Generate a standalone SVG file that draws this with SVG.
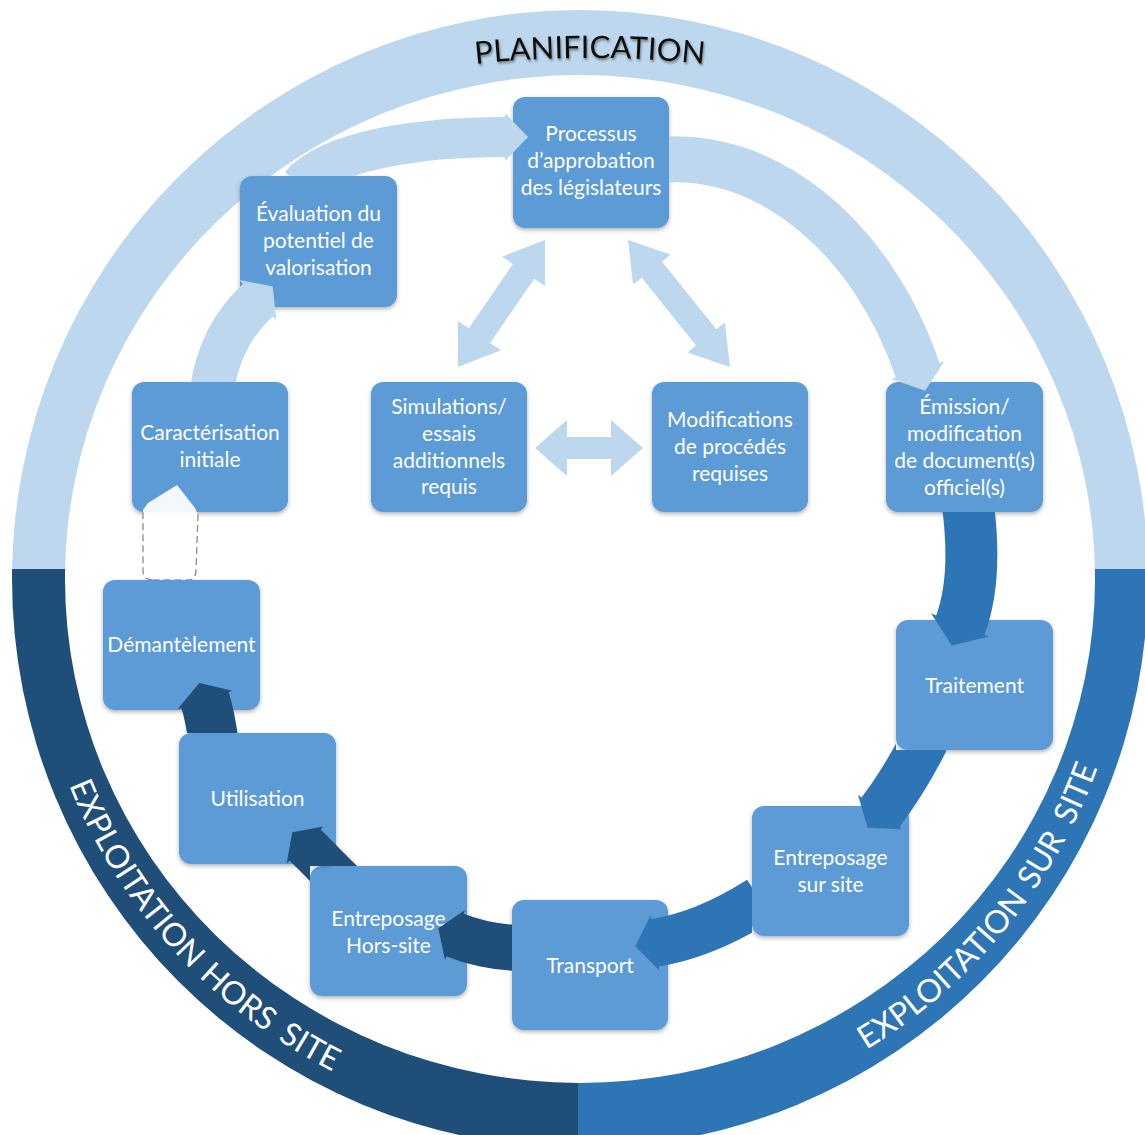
<svg xmlns="http://www.w3.org/2000/svg" width="1145" height="1135" viewBox="0 0 1145 1135">
<defs>
<style>
.box{fill:#5B9BD5;filter:url(#sh)}
.t{font-family:Lato,"Open Sans","Liberation Sans",sans-serif;font-size:21px;fill:#fff;text-anchor:middle}
.rt{font-family:Lato,"Open Sans","Liberation Sans",sans-serif;font-size:32px;fill:#fff}
.light{fill:#BDD7EE}
.lightS{stroke:#BDD7EE;fill:none}
.medF{fill:#2E75B6}
.medS{stroke:#2E75B6;fill:none}
.navF{fill:#1F4E79}
.navS{stroke:#1F4E79;fill:none}
</style>
<filter id="sh" x="-10%" y="-10%" width="120%" height="125%"><feDropShadow dx="0" dy="2" stdDeviation="2" flood-color="#000" flood-opacity="0.3"/></filter>
<filter id="tsh" x="-10%" y="-30%" width="120%" height="160%"><feDropShadow dx="1" dy="2" stdDeviation="1" flood-color="#444" flood-opacity="0.6"/></filter>
<clipPath id="cTop"><rect x="0" y="0" width="1145" height="569"/></clipPath>
<clipPath id="cBL"><rect x="0" y="569" width="578" height="566"/></clipPath>
<clipPath id="cBR"><rect x="578" y="569" width="567" height="566"/></clipPath>
<path id="ring" fill-rule="evenodd" d="M12 579A568 569 0 1 1 1148 579A568 569 0 1 1 12 579Z M65 579A515 504 0 1 0 1095 579A515 504 0 1 0 65 579Z"/>
<path id="pTop" d="M400 74.5A1100 1100 0 0 1 780 74.5"/>
<path id="pBL" d="M37.4 674.7A551 551 0 0 0 532 1127.9"/>
<path id="pBR" d="M628 1127.9A551 551 0 0 0 1128.9 531"/>
<clipPath id="x1"><path clip-rule="evenodd" d="M0 0H1145V1135H0Z M513 97h156v131h-156Z"/></clipPath>
<clipPath id="x2"><path clip-rule="evenodd" d="M0 0H1145V1135H0Z M240 176h157v131h-157Z"/></clipPath>
<clipPath id="x3"><path clip-rule="evenodd" d="M0 0H1145V1135H0Z M132 382h156v130h-156Z"/></clipPath>
<clipPath id="x6"><path clip-rule="evenodd" d="M0 0H1145V1135H0Z M886 382h157v130h-157Z"/></clipPath>
<clipPath id="x7"><path clip-rule="evenodd" d="M0 0H1145V1135H0Z M896 620h157v130h-157Z"/></clipPath>
<clipPath id="x8"><path clip-rule="evenodd" d="M0 0H1145V1135H0Z M752 806h157v130h-157Z"/></clipPath>
<clipPath id="x9"><path clip-rule="evenodd" d="M0 0H1145V1135H0Z M512 900h156v130h-156Z"/></clipPath>
<clipPath id="x10"><path clip-rule="evenodd" d="M0 0H1145V1135H0Z M310 866h157v130h-157Z"/></clipPath>
<clipPath id="x11"><path clip-rule="evenodd" d="M0 0H1145V1135H0Z M179 733h157v131h-157Z"/></clipPath>
<clipPath id="x12"><path clip-rule="evenodd" d="M0 0H1145V1135H0Z M103 580h157v130h-157Z"/></clipPath>
</defs>
<rect width="1145" height="1135" fill="#fff"/>

<g id="phase-ring">
<use href="#ring" fill="#BDD7EE" clip-path="url(#cTop)"/>
<use href="#ring" fill="#1F4E79" clip-path="url(#cBL)"/>
<use href="#ring" fill="#2E75B6" clip-path="url(#cBR)"/>
<text font-family="Lato,'Open Sans','Liberation Sans',sans-serif" font-size="31" fill="#111" filter="url(#tsh)"><textPath href="#pTop" startOffset="50%" text-anchor="middle">PLANIFICATION</textPath></text>
<text class="rt"><textPath href="#pBL" startOffset="115">EXPLOITATION</textPath></text>
<text class="rt"><textPath href="#pBL" startOffset="348">HORS</textPath></text>
<text class="rt"><textPath href="#pBL" startOffset="449">SITE</textPath></text>
<text class="rt"><textPath href="#pBR" startOffset="253">EXPLOITATION</textPath></text>
<text class="rt"><textPath href="#pBR" startOffset="486">SUR</textPath></text>
<text class="rt"><textPath href="#pBR" startOffset="561">SITE</textPath></text>
</g>

<g id="n1"><rect class="box" x="513" y="97" width="156" height="131" rx="12"/>
<text class="t" x="591" y="141">Processus</text><text class="t" x="591" y="168">d’approbation</text><text class="t" x="591" y="195">des législateurs</text></g>
<g id="n2"><rect class="box" x="240" y="176" width="157" height="131" rx="12"/>
<text class="t" x="318.5" y="221">Évaluation du</text><text class="t" x="318.5" y="248">potentiel de</text><text class="t" x="318.5" y="275">valorisation</text></g>
<g id="n3"><rect class="box" x="132" y="382" width="156" height="130" rx="12"/>
<text class="t" x="210" y="440">Caractérisation</text><text class="t" x="210" y="467">initiale</text></g>
<g id="n4"><rect class="box" x="371" y="382" width="156" height="130" rx="12"/>
<text class="t" x="449" y="414">Simulations/</text><text class="t" x="449" y="441">essais</text><text class="t" x="449" y="468">additionnels</text><text class="t" x="449" y="494">requis</text></g>
<g id="n5"><rect class="box" x="652" y="382" width="156" height="130" rx="12"/>
<text class="t" x="730" y="427">Modifications</text><text class="t" x="730" y="454">de procédés</text><text class="t" x="730" y="481">requises</text></g>
<g id="n6"><rect class="box" x="886" y="382" width="157" height="130" rx="12"/>
<text class="t" x="964.5" y="414">Émission/</text><text class="t" x="964.5" y="441">modification</text><text class="t" x="964.5" y="468">de document(s)</text><text class="t" x="964.5" y="495">officiel(s)</text></g>
<g id="n7"><rect class="box" x="896" y="620" width="157" height="130" rx="12"/>
<text class="t" x="974.5" y="693">Traitement</text></g>
<g id="n8"><rect class="box" x="752" y="806" width="157" height="130" rx="12"/>
<text class="t" x="830.5" y="865">Entreposage</text><text class="t" x="830.5" y="892">sur site</text></g>
<g id="n9"><rect class="box" x="512" y="900" width="156" height="130" rx="12"/>
<text class="t" x="590" y="973">Transport</text></g>
<g id="n10"><rect class="box" x="310" y="866" width="157" height="130" rx="12"/>
<text class="t" x="388.5" y="926">Entreposage</text><text class="t" x="388.5" y="953">Hors-site</text></g>
<g id="n11"><rect class="box" x="179" y="733" width="157" height="131" rx="12"/>
<text class="t" x="257.5" y="806">Utilisation</text></g>
<g id="n12"><rect class="box" x="103" y="580" width="157" height="130" rx="12"/>
<text class="t" x="181.5" y="652">Démantèlement</text></g>

<g id="connectors">
<g clip-path="url(#x3)"><path class="lightS" stroke-width="44" d="M212 390Q220 335 258 300"/><polygon class="light" points="276.3,319.9 272.7,286.4 239.7,280.1 257,301"/></g>
<g clip-path="url(#x2)"><path class="lightS" stroke-width="40" d="M300 185C330 150 420 137 506 137"/><polygon class="light" points="505,113 528,137 505,161"/></g>
<g clip-path="url(#x1)"><path class="lightS" stroke-width="46" d="M660 160C760 150 870 230 918 371"/><polygon class="light" points="944.5,360.9 925.1,390.8 891.5,379.1"/></g>
<g clip-path="url(#x6)"><path class="medS" stroke-width="52" d="M968 505C975 560 970 600 960 626"/><polygon class="medF" points="988.8,636.5 951.8,645.4 931.2,613.5"/></g>
<g clip-path="url(#x7)"><path class="medS" stroke-width="48" d="M925 740Q905 780 880 813"/><polygon class="medF" points="902.1,829.2 867.7,827.8 857.9,794.8"/></g>
<g clip-path="url(#x8)"><path class="medS" stroke-width="48" d="M760 900Q705 935 654 943"/><polygon class="medF" points="659.4,970.6 635.3,946.2 650.6,915.4"/></g>
<g clip-path="url(#x9)"><path class="navS" stroke-width="46" d="M520 948Q485 947 454 934.6"/><polygon class="navF" points="465,910 438.3,928.3 445,960"/></g>
<g clip-path="url(#x10)"><path class="navS" stroke-width="44" d="M345 885Q322 862 304.3 844.3"/><polygon class="navF" points="323.4,826.6 292.3,832.3 286.6,863.4"/></g>
<g clip-path="url(#x11)"><path class="navS" stroke-width="50" d="M214 745Q210 715 204.7 699"/><polygon class="navF" points="232.5,690.8 199.3,682.9 177.5,709.2"/></g>
<g clip-path="url(#x12)"><path fill="#FFFFFF" fill-opacity="0.93" d="M152 580Q143 580 143 570L143 510L148 503L177 485L195 508L198 515L196 570Q196 580 188 580Z"/>
<path clip-path="url(#x3)" fill="none" stroke="#8C8C8C" stroke-width="1.3" stroke-dasharray="7 4" d="M152 580Q143 580 143 570L143 510L148 503L177 485L195 508L198 515L196 570Q196 580 188 580Z"/></g>
<polygon class="light" points="545,240 545,286.1 534.2,278.7 490.2,343 501,350.3 458,367 458,320.9 468.8,328.3 512.8,264.1 502,256.7"/>
<polygon class="light" points="628,240 670.5,254.6 661.9,261.5 716.3,329.3 724.9,322.4 730,367 687.5,352.4 696.1,345.5 641.7,277.7 633.1,284.6"/>
<polygon class="light" points="535,448 567,420 567,437 611,437 611,420 643,448 611,476 611,459 567,459 567,476"/>
</g>
</svg>
